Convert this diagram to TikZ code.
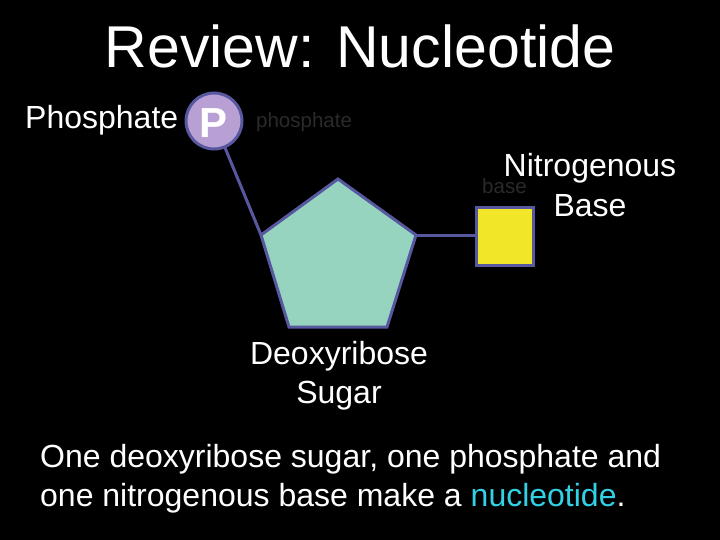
\documentclass[tikz,border=0pt]{standalone}
\usepackage{fontspec}
\setmainfont{Liberation Sans}
\usetikzlibrary{shapes.geometric}
\definecolor{edgeblue}{RGB}{88,88,160}
\definecolor{lavender}{RGB}{184,160,212}
\definecolor{mint}{RGB}{150,212,192}
\definecolor{baseyellow}{RGB}{242,230,40}
\definecolor{faint}{RGB}{42,42,42}
\definecolor{cyantext}{RGB}{50,210,230}
\tikzset{
  lbl/.style={text=white, font=\fontsize{32}{39}\selectfont, inner sep=0pt, align=center},
  ghost/.style={text=faint, font=\fontsize{20.5}{24}\selectfont, inner sep=0pt},
  conn/.style={draw=edgeblue, line width=3pt},
}
\begin{document}
\begin{tikzpicture}[x=1pt,y=-1pt]
\fill[black] (0,0) rectangle (720,540);
\useasboundingbox (0,0) rectangle (720,540);
% title
\node[text=white, font=\fontsize{59}{64}\selectfont, inner sep=0pt, anchor=base] (title) at (360,68) {Review: Nucleotide};
% sugar pentagon
\coordinate (pt) at (338,179);
\coordinate (pl) at (261,235);
\coordinate (pr) at (416,235);
\coordinate (pbl) at (289,327);
\coordinate (pbr) at (387,327);
% connectors
\node[circle, minimum size=56pt, inner sep=0pt] (phos) at (214,121) {};
\draw[conn] (phos.center) -- (pl);
\draw[conn] (pr) -- (475,235) coordinate (sqL);
\filldraw[fill=mint, draw=edgeblue, line width=3pt, line join=miter] (pt) -- (pr) -- (pbr) -- (pbl) -- (pl) -- cycle;
\node[draw=edgeblue, fill=baseyellow, line width=3pt, minimum size=57pt, inner sep=0pt] (base) at (505,236.5) {};
\node[circle, draw=edgeblue, fill=lavender, line width=3pt, minimum size=56pt, inner sep=0pt] (phosc) at (214,121) {};
\node[text=white, font=\fontsize{42}{42}\selectfont\bfseries, inner sep=0pt, anchor=base] (pl) at (214,138) {P};
% faint labels
\node[ghost, anchor=base west] (gp) at (256,128) {phosphate};
\node[ghost, anchor=base west] (gb) at (482,194) {base};
% labels
\node[lbl, anchor=base west] (lp) at (25,129) {Phosphate};
\node[lbl, anchor=base] (ln1) at (590,177) {Nitrogenous};
\node[lbl, anchor=base] (ln2) at (590,216) {Base};
\node[lbl, anchor=base] (ls1) at (339,364) {Deoxyribose};
\node[lbl, anchor=base] (ls2) at (339,403) {Sugar};
\node[lbl, anchor=base west, align=left] (b1) at (40,467) {One deoxyribose sugar, one phosphate and};
\node[lbl, anchor=base west, align=left] (b2) at (40,506) {one nitrogenous base make a \textcolor{cyantext}{nucleotide}.};
\end{tikzpicture}
\end{document}
